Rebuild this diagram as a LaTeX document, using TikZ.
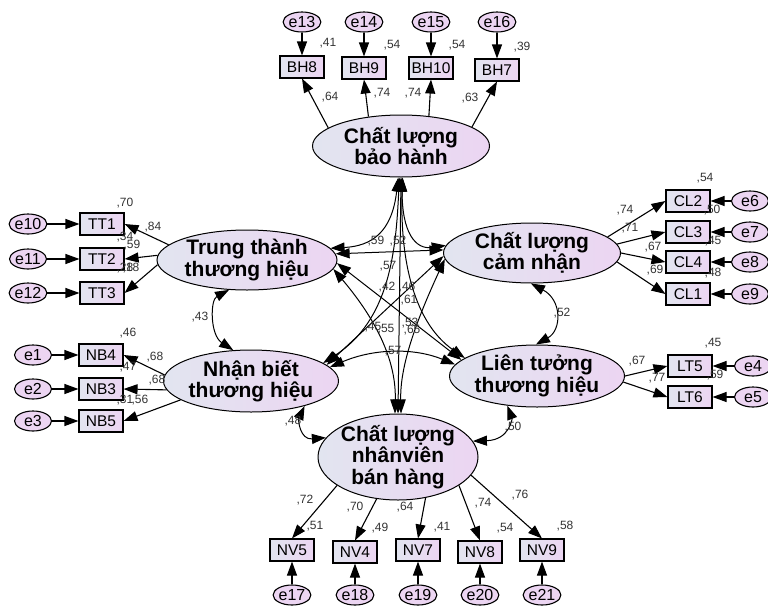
\documentclass[tikz,border=0pt]{standalone}
\usepackage{fontspec}
\setmainfont{Liberation Sans}
\usetikzlibrary{shapes.geometric,arrows.meta}

\definecolor{semL}{RGB}{226,229,240}
\definecolor{semR}{RGB}{236,213,242}

\begin{document}
\begin{tikzpicture}[x=1pt,y=-1pt,
    amos/.tip={Triangle[length=14pt,width=10pt]},
    lat/.style={ellipse, draw, line width=1pt, left color=semL, right color=semR,
      inner sep=-3pt, align=center,
      font=\fontsize{21}{21.5}\selectfont\bfseries},
    obs/.style={draw, line width=1.1pt, left color=semL, right color=semR,
      minimum width=44pt, minimum height=22pt, inner sep=0pt,
      font=\fontsize{15.5}{15.5}\selectfont},
    err/.style={ellipse, draw, line width=1.1pt, fill=semR, minimum width=37pt,
      minimum height=20pt, inner sep=0pt, font=\fontsize{16}{16}\selectfont},
    val/.style={inner sep=0pt, text=black!80, font=\fontsize{12}{12}\selectfont},
    ld/.style={-amos, line width=1.1pt},
    cov/.style={amos-amos, line width=1pt}]
  \useasboundingbox (0,0) rectangle (768,608);

  % latent variables
  \node[lat, minimum width=177pt, minimum height=62pt] (bh) at (401,146) {Chất lượng\\bảo hành};
  \node[lat, minimum width=180pt, minimum height=60pt] (tt) at (247,260) {Trung thành\\thương hiệu};
  \node[lat, minimum width=177pt, minimum height=60pt] (cl) at (532,253) {Chất lượng\\cảm nhận};
  \node[lat, minimum width=175pt, minimum height=62pt] (nb) at (251,381) {Nhận biết\\thương hiệu};
  \node[lat, minimum width=175pt, minimum height=62pt] (lt) at (537,376) {Liên tưởng\\thương hiệu};
  \node[lat, minimum width=160pt, minimum height=86pt] (nv) at (398,457) {Chất lượng\\nhânviên\\bán hàng};

  % indicators and errors
  \foreach \n/\t/\x/\y/\et in {bh8/BH8/302/67/e13, bh9/BH9/364/68/e14,
      bh10/BH10/431/68/e15, bh7/BH7/497/70/e16}{%
    \node[obs] (\n) at (\x,\y) {\t};
    \node[err] (\et) at (\x,22) {\et};
    \draw[ld] (\et) -- (\n);}
  \foreach \n/\t/\y/\et in {tt1/TT1/224/e10, tt2/TT2/259/e11, tt3/TT3/293/e12}{%
    \node[obs] (\n) at (102,\y) {\t};
    \node[err] (\et) at (28,\y) {\et};
    \draw[ld] (\et) -- (\n);}
  \foreach \n/\t/\y/\et in {cl2/CL2/201/e6, cl3/CL3/232/e7, cl4/CL4/262/e8, cl1/CL1/294/e9}{%
    \node[obs] (\n) at (688,\y) {\t};
    \node[err] (\et) at (750,\y) {\et};
    \draw[ld] (\et) -- (\n);}
  \foreach \n/\t/\y/\et in {nb4/NB4/355/e1, nb3/NB3/389/e2, nb5/NB5/421/e3}{%
    \node[obs] (\n) at (101,\y) {\t};
    \node[err] (\et) at (33,\y) {\et};
    \draw[ld] (\et) -- (\n);}
  \foreach \n/\t/\y/\et in {lt5/LT5/366/e4, lt6/LT6/397/e5}{%
    \node[obs] (\n) at (690,\y) {\t};
    \node[err] (\et) at (753,\y) {\et};
    \draw[ld] (\et) -- (\n);}
  \foreach \n/\t/\x/\y/\et in {nv5/NV5/292/550/e17, nv4/NV4/355/552/e18,
      nv7/NV7/418/550/e19, nv8/NV8/480/552/e20, nv9/NV9/542/550/e21}{%
    \node[obs] (\n) at (\x,\y) {\t};
    \node[err] (\et) at (\x,595) {\et};
    \draw[ld] (\et) -- (\n);}

  % loadings
  \foreach \a/\n in {166/bh8, 138/bh9, 47/bh10, 15/bh7}
    \draw[ld] (bh.\a) -- (\n.south);
  \foreach \a/\n in {169/tt1, 177/tt2, 183/tt3}
    \draw[ld] (tt.\a) -- (\n.east);
  \foreach \a/\n in {12/cl2, 6/cl3, 0/cl4, -6/cl1}
    \draw[ld] (cl.\a) -- (\n.west);
  \foreach \a/\n in {176/nb4, 186/nb3, 195/nb5}
    \draw[ld] (nb.\a) -- (\n.east);
  \foreach \a/\n in {0/lt5, -4/lt6}
    \draw[ld] (lt.\a) -- (\n.west);
  \foreach \a/\n in {205/nv5, 243/nv4, 304/nv7, 335/nv8, 346/nv9}
    \draw[ld] (nv.\a) -- (\n.north);

  % covariances
  \draw[cov] (tt.239) .. controls (210,300) and (210,335) .. (nb.120);
  \draw[cov] (cl.268) .. controls (562,300) and (562,330) .. (lt.92);
  \draw[cov] (nb.335) .. controls (298,420) and (300,440) .. (nv.165);
  \draw[cov] (lt.225) .. controls (512,418) and (510,440) .. (nv.12);
  \draw[cov] (nb.10) .. controls (375,348) and (415,348) .. (lt.172);
  \draw[cov] (tt.4) -- (cl.178);
  \draw[cov] (tt.8) .. controls (372,246) and (392,232) .. (bh.265);
  \draw[cov] (cl.175) .. controls (415,250) and (402,232) .. (bh.272);
  \draw[cov] (bh.270) -- (nv.90);
  \draw[cov] (tt.-2) -- (lt.168);
  \draw[cov] (cl.182) -- (nb.12);
  \draw[cov] (tt.-6) .. controls (385,330) and (396,370) .. (nv.94);
  \draw[cov] (cl.184) .. controls (412,330) and (400,370) .. (nv.86);
  \draw[cov] (nb.14) .. controls (390,320) and (396,250) .. (bh.267);
  \draw[cov] (lt.166) .. controls (410,320) and (400,250) .. (bh.273);

  % estimates
  \foreach \x/\y/\t [count=\i] in {328/43/41, 392/45/54, 457/45/54, 522/47/39,
      330/97/64, 382/93/74, 413/93/74, 470/98/63,
      125/203/70, 153/227/84, 125/237/34, 132/245/59, 125/268/28, 131/268/18,
      705/178/54, 625/210/74, 712/210/50, 630/228/71, 713/241/45, 653/247/67,
      655/270/69, 713/273/48, 562/313/52,
      128/333/46, 155/357/68, 128/367/47, 157/380/68, 125/400/31, 140/400/56,
      200/317/43, 293/421/48,
      713/343/45, 637/361/67, 657/378/77, 715/375/59, 513/427/50,
      305/500/72, 355/507/70, 405/507/64, 483/503/74, 520/495/76,
      315/526/51, 380/528/49, 442/527/41, 505/528/54, 565/526/58,
      376/241/59, 398/241/52, 388/266/57, 387/287/42, 407/287/46, 409/300/61,
      373/327/45, 386/329/55, 410/323/53, 412/330/65, 393/351/57}
    \node[val] (v\i) at (\x,\y) {,\t};
\end{tikzpicture}
\end{document}
